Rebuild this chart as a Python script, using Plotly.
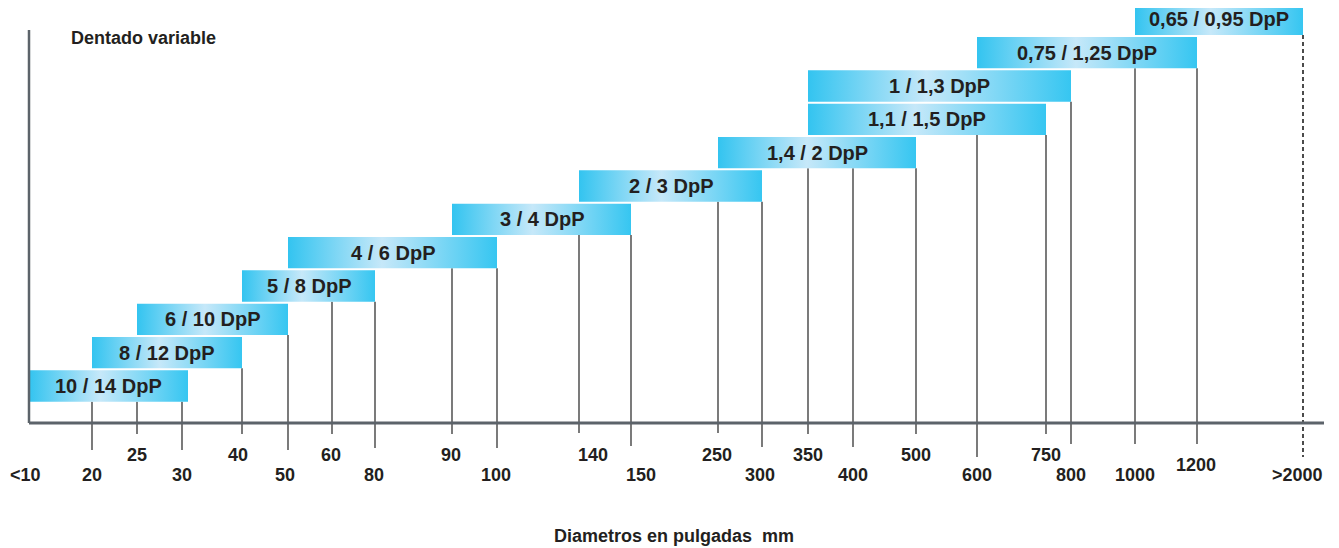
import plotly.graph_objects as go

# ---------------- data ----------------
tick_labels = ["<10", "20", "25", "30", "40", "50", "60", "80", "90", "100", "140", "150",
               "250", "300", "350", "400", "500", "600", "750", "800", "1000", "1200", ">2000"]
# schematic (non-linear) axis positions of each tick, as laid out in the chart
tick_pos = [29, 92, 137, 182, 242, 288, 332, 375, 452, 497, 579, 631,
            718, 762, 808, 853, 916, 977, 1046, 1071, 1135, 1197, 1303]
# label row: 0 = lower row, 1 = upper row, 2 = in between
tick_row = [0, 0, 1, 0, 1, 0, 1, 0, 1, 0, 1, 0,
            1, 0, 1, 0, 1, 0, 1, 0, 0, 2, 0]
label_dx = [-4, 0, 0, 0, -4, -3, -1, -1, -1, -1, 14, 10,
            -1, -2, 0, 0, 0, 0, 0, 0, 0, -1, -6]
tick_drop = [0, 27, 11, 27, 11, 27, 11, 25, 11, 25, 10, 23,
             10, 24, 11, 24, 11, 34, 11, 21, 21, 21, 34]
dashed_ticks = [">2000"]

bar_labels = ["10 / 14 DpP", "8 / 12 DpP", "6 / 10 DpP", "5 / 8 DpP", "4 / 6 DpP",
              "3 / 4 DpP", "2 / 3 DpP", "1,4 / 2 DpP", "1,1 / 1,5 DpP", "1 / 1,3 DpP",
              "0,75 / 1,25 DpP", "0,65 / 0,95 DpP"]
bar_from = ["<10", "20", "25", "40", "50", "90", "140", "250", "350", "350", "600", "1000"]
bar_to = ["30", "40", "50", "80", "100", "150", "300", "500", "750", "800", "1200", ">2000"]

y_title = "Dentado variable"
x_title = "Diametros en pulgadas  mm"

# ---------------- layout constants ----------------
SW, SH = 1339, 548     # screen size
PAGE = 8               # default page margin of the html body
W, H = SW - PAGE, SH - PAGE
AXIS_PX = 423          # screen pixel row of x axis
PITCH = 33.33          # pixels per bar level
HALF = 0.47
OFFS = 0.11
FONT = "Liberation Sans, Arial, sans-serif"
TXT = "#231f20"
AXCOL = "#5c636a"

def px2v(p):
    return (AXIS_PX - p) / PITCH

pos = dict(zip(tick_labels, tick_pos))

fig = go.Figure()

# ---- vertical guide lines (drawn first, bars cover them) ----
sx, sy, dx, dy = [], [], [], []
for lab, p, drop in zip(tick_labels, tick_pos, tick_drop):
    if lab == "<10":
        continue
    covering = [k for k in range(len(bar_labels))
                if pos[bar_from[k]] <= p <= pos[bar_to[k]]]
    k = min(covering)
    top = (k + 1) + OFFS - HALF
    bot = px2v(AXIS_PX + drop)
    if lab in dashed_ticks:
        dx += [p, p, None]; dy += [top, bot, None]
    else:
        sx += [p, p, None]; sy += [top, bot, None]

fig.add_trace(go.Scatter(x=sx, y=sy, mode="lines",
                         line=dict(color="#333333", width=1.3), hoverinfo="skip"))
fig.add_trace(go.Scatter(x=dx, y=dy, mode="lines",
                         line=dict(color="#111111", width=1.5, dash="4px,3px"), hoverinfo="skip"))

# ---- bars with horizontal gradient ----
cscale = [[0.0, "#33c4f0"], [0.45, "#c6e8f9"], [1.0, "#36c6f1"]]
for k, (lab, f, t) in enumerate(zip(bar_labels, bar_from, bar_to)):
    x0, x1 = pos[f], pos[t]
    if k == 0:
        x1 += 6
    yc = (k + 1) + OFFS
    y0, y1 = yc - HALF, yc + HALF
    fig.add_trace(go.Scatter(
        x=[x0, x1, x1, x0, x0], y=[y0, y0, y1, y1, y0],
        mode="lines", fill="toself",
        fillgradient=dict(type="horizontal", colorscale=cscale),
        line=dict(width=0, color="rgba(0,0,0,0)"), hoverinfo="skip"))
    fig.add_annotation(x=(x0 + x1) / 2, y=yc, text=lab, showarrow=False,
                       xanchor="center", yanchor="middle",
                       font=dict(family=FONT, size=20, color=TXT, weight="bold"))

# ---- axes lines ----
fig.add_trace(go.Scatter(x=[tick_pos[0], 1324], y=[0, 0], mode="lines",
                         line=dict(color=AXCOL, width=3), hoverinfo="skip"))
fig.add_trace(go.Scatter(x=[tick_pos[0], tick_pos[0]], y=[0, px2v(30)], mode="lines",
                         line=dict(color=AXCOL, width=2.5), hoverinfo="skip"))

# ---- tick labels ----
row_px = {0: 475, 1: 454.5, 2: 465}
for lab, p, r, ddx in zip(tick_labels, tick_pos, tick_row, label_dx):
    fig.add_annotation(x=p + ddx, y=px2v(row_px[r]), text=lab, showarrow=False,
                       xanchor="center", yanchor="middle",
                       font=dict(family=FONT, size=18, color=TXT, weight="bold"))

fig.add_annotation(x=69, y=px2v(38), text=y_title, showarrow=False,
                   xanchor="left", yanchor="middle",
                   font=dict(family=FONT, size=18, color=TXT, weight="bold"))
fig.add_annotation(x=674, y=px2v(536), text=x_title, showarrow=False,
                   xanchor="center", yanchor="middle",
                   font=dict(family=FONT, size=18, color=TXT, weight="bold"))

fig.update_layout(
    width=W, height=H, margin=dict(l=0, r=0, t=0, b=0),
    paper_bgcolor="white", plot_bgcolor="white", showlegend=False,
    hovermode=False,
    xaxis=dict(range=[PAGE, SW], visible=False, fixedrange=True),
    yaxis=dict(range=[px2v(SH), px2v(PAGE)], visible=False, fixedrange=True),
)

fig.write_html("out.html", config={"displayModeBar": False})
